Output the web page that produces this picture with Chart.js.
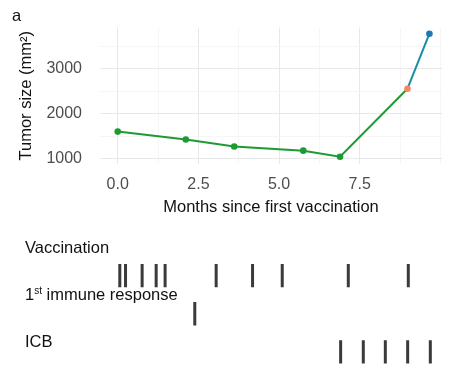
<!DOCTYPE html>
<html>
<head>
<meta charset="utf-8">
<script src="https://cdn.jsdelivr.net/npm/chart.js@4/dist/chart.umd.min.js"></script>
<style>
  html, body { margin: 0; padding: 0; background: #fff; }
  #wrap { position: relative; width: 453px; height: 383px; overflow: hidden;
          font-family: "Liberation Sans", Arial, sans-serif; }
  #tumor { position: absolute; left: 0; top: 0; }
  #events { position: absolute; left: 0; top: 230px; }
  .lbl { position: absolute; left: 25px; font-size: 16.5px; line-height: 16px;
         color: #111; white-space: nowrap; }
  .lbl sup { font-size: 10px; line-height: 0; vertical-align: 6px; }
</style>
</head>
<body>
<div id="wrap">
  <canvas id="tumor" width="453" height="230"></canvas>
  <canvas id="events" width="453" height="153"></canvas>
  <div class="lbl" style="left:12px; top:7px;">a</div>
  <div class="lbl" style="top:239px;">Vaccination</div>
  <div class="lbl" style="top:285.5px;">1<sup>st</sup> immune response</div>
  <div class="lbl" style="top:333px;">ICB</div>
</div>
<script>
// Tumor measurements (months since first vaccination, size in mm²)
const tumorMonths = [0, 2.11, 3.61, 5.75, 6.89, 8.98, 9.66];
const tumorSize   = [1600, 1424, 1267, 1176, 1040, 2555, 3780];
const tumorPhase  = ['vaccine', 'vaccine', 'vaccine', 'vaccine', 'vaccine', 'icbStart', 'icb'];

// Treatment / event timelines (months)
const eventRows = ['Vaccination', '1st immune response', 'ICB'];
const vaccinationMonths    = [0.07, 0.25, 0.77, 1.21, 1.49, 3.09, 4.23, 5.16, 7.23, 9.11];
const immuneResponseMonths = [2.42];
const icbMonths            = [6.99, 7.70, 8.39, 9.09, 9.80];

// Axis breaks
const xBreaks      = [0, 1.25, 2.5, 3.75, 5, 6.25, 7.5, 8.75, 10];
const xTickLabels  = ['0.0', '2.5', '5.0', '7.5'];
const yBreaks      = [1000, 1500, 2000, 2500, 3000, 3500];
const yTickLabels  = ['1000', '2000', '3000'];

const X_MIN = -0.55, X_MAX = 10.05;
const phaseColor = { vaccine: '#1e9a34', icbStart: '#f4895f', icb: '#1f78b4' };
const lineColor  = { vaccine: '#1e9a34', icbStart: '#1e9a34', icb: '#1b8ca6' };

const FONT = 'Liberation Sans';
const label = (v, d) => Number(v).toFixed(d);

function gridStyle(labels, d) {
  return {
    color: ctx => labels.includes(label(ctx.tick.value, d)) ? '#e8e8e8' : '#f4f4f4',
    lineWidth: ctx => labels.includes(label(ctx.tick.value, d)) ? 1 : 0.8,
    drawTicks: false
  };
}

new Chart(document.getElementById('tumor'), {
  type: 'line',
  data: {
    datasets: [{
      data: tumorMonths.map((m, i) => ({ x: m, y: tumorSize[i] })),
      borderWidth: 2,
      pointRadius: 3.3,
      pointBorderWidth: 0,
      pointBackgroundColor: tumorPhase.map(p => phaseColor[p]),
      segment: { borderColor: ctx => lineColor[tumorPhase[ctx.p1DataIndex]] },
      tension: 0
    }]
  },
  options: {
    responsive: false,
    animation: false,
    events: [],
    layout: { padding: { top: 20, right: 11, left: 0, bottom: 0 } },
    plugins: { legend: { display: false }, tooltip: { enabled: false } },
    scales: {
      x: {
        type: 'linear', min: X_MIN, max: X_MAX,
        afterBuildTicks: s => { s.ticks = xBreaks.map(v => ({ value: v })); },
        afterFit: s => { s.height = 66.2; },
        border: { display: false },
        grid: gridStyle(xTickLabels, 1),
        ticks: {
          autoSkip: false, maxRotation: 0, padding: 11,
          color: '#4d4d4d', font: { family: FONT, size: 16 },
          callback: v => xTickLabels.includes(label(v, 1)) ? label(v, 1) : ''
        },
        title: {
          display: true, text: 'Months since first vaccination',
          color: '#111', font: { family: FONT, size: 16.5 },
          padding: { top: 0, bottom: 13 }
        }
      },
      y: {
        type: 'linear', min: 883, max: 3916,
        afterBuildTicks: s => { s.ticks = yBreaks.map(v => ({ value: v })); },
        afterFit: s => { s.width = 100; },
        border: { display: false },
        grid: gridStyle(yTickLabels, 0),
        ticks: {
          autoSkip: false, padding: 18,
          color: '#4d4d4d', font: { family: FONT, size: 16 },
          callback: v => yTickLabels.includes(label(v, 0)) ? label(v, 0) : ''
        },
        title: {
          display: true, text: 'Tumor size (mm²)',
          color: '#111', font: { family: FONT, size: 16.5 },
          padding: { top: 17, bottom: 0 }
        }
      }
    }
  }
});

// One row per event type, top row first
const rowValue = name => eventRows.length - 1 - eventRows.indexOf(name);
const eventSeries = [
  ['Vaccination', vaccinationMonths],
  ['1st immune response', immuneResponseMonths],
  ['ICB', icbMonths]
];

new Chart(document.getElementById('events'), {
  type: 'scatter',
  data: {
    datasets: eventSeries.map(([name, months]) => ({
      label: name,
      data: months.map(m => ({ x: m, y: rowValue(name) })),
      pointStyle: 'line',
      rotation: 90,
      pointRadius: 11.7,
      borderWidth: 3,
      borderColor: '#3a3a3a',
      backgroundColor: '#3a3a3a'
    }))
  },
  options: {
    responsive: false,
    animation: false,
    events: [],
    layout: { padding: { top: 0, right: 11, left: 100, bottom: 0 } },
    plugins: { legend: { display: false }, tooltip: { enabled: false } },
    scales: {
      x: { type: 'linear', min: X_MIN, max: X_MAX, display: false },
      y: { type: 'linear', min: -0.43, max: 2.81, display: false }
    }
  }
});
</script>
</body>
</html>
